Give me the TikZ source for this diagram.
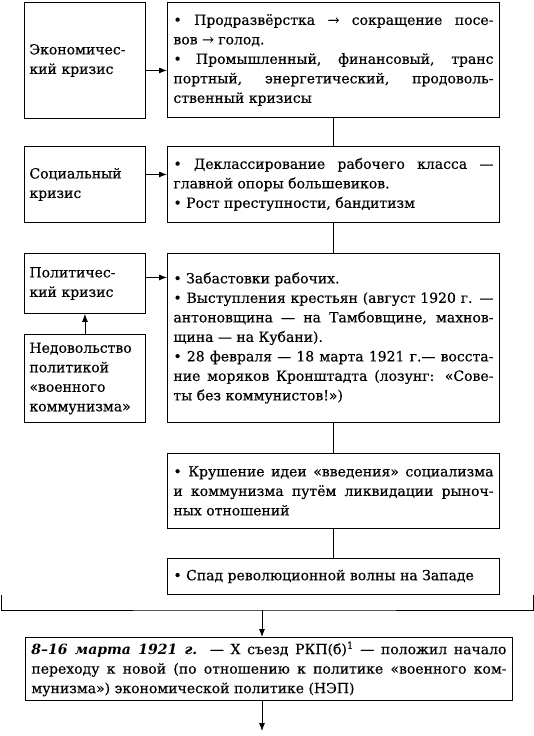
\documentclass[tikz,border=0pt]{standalone}
\usepackage{fontspec}
\setmainfont{DejaVu Serif}[UprightFeatures={FakeBold=0.4}]
\usetikzlibrary{arrows.meta,positioning}

\begin{document}
\begin{tikzpicture}[
  x=1pt,y=-1pt,
  font=\fontsize{14}{19.5}\selectfont,
  cause/.style={rectangle,draw,line width=0.9pt,anchor=north west,minimum width=121pt,text width=111pt,inner xsep=5pt,align=left},
  fact/.style={rectangle,draw,line width=0.9pt,anchor=north west,minimum width=332pt,text width=320pt,inner xsep=6pt,align=justify,
    execute at begin node={\tolerance=10000\hbadness=10000}},
  ln/.style={line width=0.8pt},
  ar/.style={-{Latex[length=8pt,width=6pt]},line width=0.8pt}
]
\useasboundingbox (0,0) rectangle (534,736);

% causes of the crisis
\node[cause,minimum height=116pt] (econ) at (24,2) {Экономичес-\\кий кризис};
\node[cause,minimum height=76pt] (soc) at (24,146) {Социальный\\кризис};
\node[cause,minimum height=60pt] (polit) at (24,253) {Политичес-\\кий кризис};
\node[cause,minimum height=88pt] (ned) at (24,334) {Недовольство\\политикой\\«военного\\коммунизма»};

% what the crisis looked like
\node[fact,minimum height=115pt] (fact1) at (167,2) {\textbullet{} Продразвёрстка → сокращение посе-\linebreak вов → голод.\par
  \textbullet{} Промышленный, финансовый, транс\linebreak портный, энергетический, продоволь-\linebreak ственный кризисы};
\node[fact,minimum height=76pt] (fact2) at (167,146) {\textbullet{} Деклассирование рабочего класса —\linebreak главной опоры большевиков.\par
  \textbullet{} Рост преступности, бандитизм};
\node[fact,minimum height=169pt] (fact3) at (167,253) {\textbullet{} Забастовки рабочих.\par
  \textbullet{} Выступления крестьян (август 1920 г. —\linebreak антоновщина — на Тамбовщине, махнов-\linebreak щина — на Кубани).\par
  \textbullet{} 28 февраля — 18 марта 1921 г.— восста-\linebreak ние моряков Кронштадта (лозунг: «Сове-\linebreak ты без коммунистов!»)\par\vspace{20pt}};
\node[fact,minimum height=75pt] (fact4) at (167,453) {\textbullet{} Крушение идеи «введения» социализма\linebreak и коммунизма путём ликвидации рыноч-\linebreak ных отношений};
\node[fact,minimum height=36pt] (fact5) at (167,558) {\textbullet{} Спад революционной волны на Западе};

% outcome
\node[fact,minimum width=487pt,text width=475pt,inner xsep=6pt,minimum height=63pt] (nep) at (25,637) {\textbf{\textit{8–16 марта 1921 г.}} — X съезд РКП(б)\textsuperscript{1} — положил начало\linebreak переходу к новой (по отношению к политике «военного ком-\linebreak мунизма») экономической политике (НЭП)};

\draw[ar] ([yshift=-10pt]econ.east) -- ([yshift=-10pt]econ.east -| fact1.west);
\draw[ar] ([yshift=10pt]soc.east) -- ([yshift=10pt]soc.east -| fact2.west);
\draw[ar] ([yshift=6pt]polit.east) -- ([yshift=6pt]polit.east -| fact3.west);
\draw[ar] (ned) -- (polit);

\draw[ln] (fact1) -- (fact2);
\draw[ln] (fact2) -- (fact3);
\draw[ln] (fact3) -- (fact4);
\draw[ln] (fact4) -- (fact5);

% bracket gathering everything above
\coordinate (bl) at (1,595);
\coordinate (br) at (533,595);
\coordinate (brk) at (262,610);
\coordinate (out) at (262,731);
\draw[line width=0.9pt] (bl) |- (brk) -| (br);
\draw[ar] (brk) -- (brk |- nep.north);
\draw[ar] (brk |- nep.south) -- (out);
\end{tikzpicture}
\end{document}
